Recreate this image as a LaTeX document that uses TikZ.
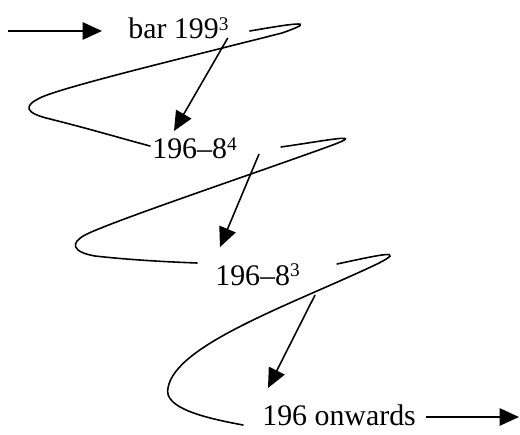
\documentclass[tikz,border=0pt]{standalone}
\usepackage{fontspec}
\setmainfont{Liberation Serif}
\usetikzlibrary{arrows.meta,calc}
\tikzset{
  lbl/.style={anchor=base west, inner sep=0pt, font=\fontsize{17}{20}\selectfont},
  flow/.style={-{Triangle[length=0.39cm,width=0.35cm]}, line width=0.9pt},
  swirl/.style={line width=0.9pt, line cap=round},
}
\newcommand{\supx}[1]{\raisebox{0.3em}{\fontsize{11}{12}\selectfont #1}}

\begin{document}
\begin{tikzpicture}[x=0.02cm,y=-0.02cm]
  \useasboundingbox (0,0) rectangle (520,435);

  % labels (base west at text start)
  \node[lbl] (bar) at (128,39) {bar 199\supx{3}};
  \node[lbl] (m4) at (152,159) {196--8\supx{4}};
  \node[lbl] (m3) at (215,285) {196--8\supx{3}};
  \node[lbl] (onw) at (262,425) {196 onwards};

  \coordinate (in) at (8,31);
  \coordinate (out) at (519,417);

  \draw[flow] (in) -- ($(bar.base west)+(-26,-8)$);
  \draw[flow] ($(onw.base east)+(10,-8)$) -- (out);

  % swirls
  \draw[swirl] ($(bar.base east)+(21,-8)$) .. controls (285,25) and (325,18) .. (282,33)
    .. controls (200,54) and (70,85) .. (42,97)
    .. controls (22,106) and (25,113) .. (50,119)
    .. controls (90,129) and (120,138) .. ($(m4.base west)+(-2,-13)$);
  \draw[swirl] ($(m4.base east)+(44,-12)$) .. controls (330,140) and (368,132) .. (330,146)
    .. controls (250,175) and (110,222) .. (85,235)
    .. controls (70,243) and (72,252) .. (95,256)
    .. controls (130,260) and (170,262) .. ($(m3.base west)+(-18,-22)$);
  \draw[swirl] ($(m3.base east)+(37,-21)$) .. controls (375,256) and (412,247) .. (375,265)
    .. controls (290,305) and (175,345) .. (168,388)
    .. controls (163,408) and (205,418) .. ($(onw.base west)+(-19,0)$);

  % downward arrows
  \draw[flow] ($(bar.base east)+(-1,-1)$) -- ($(m4.base west)+(22,-28)$);
  \draw[flow] ($(m4.base east)+(22,-5)$) -- ($(m3.base west)+(5,-38)$);
  \draw[flow] ($(m3.base east)+(15,10)$) -- ($(onw.base west)+(6,-37)$);
\end{tikzpicture}
\end{document}
